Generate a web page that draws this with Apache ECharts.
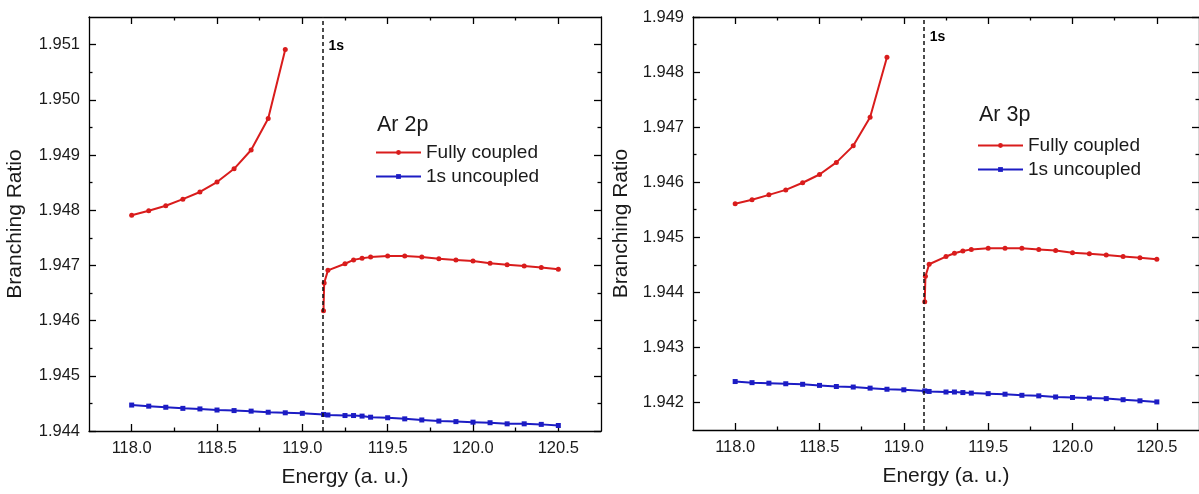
<!DOCTYPE html>
<html><head><meta charset="utf-8">
<script src="https://cdn.jsdelivr.net/npm/echarts@6/dist/echarts.min.js"></script>
<style>html,body{margin:0;padding:0;background:#fff}#chart{width:1199px;height:494px}</style>
</head><body><div id="chart"></div>
<script>
// ---------- data ----------
const energyBelow = [118.0, 118.1, 118.2, 118.3, 118.4, 118.5, 118.6, 118.7, 118.8, 118.9];
const energyAbove = [119.124, 119.128, 119.15, 119.25, 119.3, 119.35, 119.4, 119.5, 119.6, 119.7, 119.8, 119.9, 120.0, 120.1, 120.2, 120.3, 120.4, 120.5];
const energyUncoupled = [118.0, 118.1, 118.2, 118.3, 118.4, 118.5, 118.6, 118.7, 118.8, 118.9, 119.0, 119.124, 119.15, 119.25, 119.3, 119.35, 119.4, 119.5, 119.6, 119.7, 119.8, 119.9, 120.0, 120.1, 120.2, 120.3, 120.4, 120.5];

const ar2pFullyBelow = [1.94791, 1.94799, 1.94808, 1.94820, 1.94833, 1.94851, 1.94875, 1.94909, 1.94966, 1.95091];
const ar2pFullyAbove = [1.94618, 1.94668, 1.94691, 1.94703, 1.94710, 1.94713, 1.94715, 1.94717, 1.94717, 1.94715, 1.94712, 1.94710, 1.94708, 1.94704, 1.94701, 1.94699, 1.94696, 1.94693];
const ar2pUncoupled = [1.94447, 1.94445, 1.94443, 1.94441, 1.94440, 1.94438, 1.94437, 1.94436, 1.94434, 1.94433, 1.94432, 1.94430, 1.94429, 1.94428, 1.94428, 1.94427, 1.94425, 1.94424, 1.94422, 1.94420, 1.94418, 1.94417, 1.94416, 1.94415, 1.94413, 1.94413, 1.94412, 1.94410];

const ar3pFullyBelow = [1.94561, 1.94568, 1.94577, 1.94586, 1.94599, 1.94614, 1.94636, 1.94666, 1.94718, 1.94827];
const ar3pFullyAbove = [1.94383, 1.94429, 1.94451, 1.94465, 1.94471, 1.94475, 1.94478, 1.94480, 1.94480, 1.94480, 1.94478, 1.94476, 1.94472, 1.94470, 1.94468, 1.94465, 1.94463, 1.94460];
const ar3pUncoupled = [1.94238, 1.94236, 1.94235, 1.94234, 1.94233, 1.94231, 1.94229, 1.94228, 1.94226, 1.94224, 1.94223, 1.94221, 1.94220, 1.94219, 1.94219, 1.94218, 1.94217, 1.94216, 1.94215, 1.94213, 1.94212, 1.94210, 1.94209, 1.94208, 1.94207, 1.94205, 1.94203, 1.94201];

const threshold1s = 119.124;

const xTicksMajor = [118.0, 118.5, 119.0, 119.5, 120.0, 120.5];
const xTicksMinor = [118.25, 118.75, 119.25, 119.75, 120.25];
const yTicksMajor2p = [1.944, 1.945, 1.946, 1.947, 1.948, 1.949, 1.950, 1.951];
const yTicksMinor2p = [1.9445, 1.9455, 1.9465, 1.9475, 1.9485, 1.9495, 1.9505];
const yTicksMajor3p = [1.942, 1.943, 1.944, 1.945, 1.946, 1.947, 1.948, 1.949];
const yTicksMinor3p = [1.9425, 1.9435, 1.9445, 1.9455, 1.9465, 1.9475, 1.9485];

const panelTitles = ['Ar 2p', 'Ar 3p'];
const seriesNames = ['Fully coupled', '1s uncoupled'];

// ---------- styling / layout ----------
const FONT = "'Liberation Sans', Arial, sans-serif";
const RED = '#d91c1c';
const BLUE = '#1c1cc4';
const TXT = '#1a1a1a';
const X_RANGE = [117.75, 120.75];
const Y_RANGES = [[1.944, 1.9515], [1.9415, 1.949]];

const zip = (a, b) => a.map((v, i) => [v, b[i]]);

function xAxis(gi, position, ticks, len, main, label) {
  return {
    type: 'value', gridIndex: gi, position, min: X_RANGE[0], max: X_RANGE[1],
    axisLine: { show: main, onZero: false, lineStyle: { color: '#000', width: 1.3 } },
    axisTick: { show: true, inside: true, length: len, customValues: ticks, lineStyle: { color: '#000', width: 1.3 } },
    axisLabel: label ? { show: true, customValues: ticks, formatter: v => v.toFixed(1), margin: 9, fontSize: 16.5, color: TXT, fontFamily: FONT } : { show: false },
    splitLine: { show: false },
    name: label ? 'Energy (a. u.)' : '', nameLocation: 'middle', nameGap: 36,
    nameTextStyle: { fontSize: 21, color: TXT, fontFamily: FONT }
  };
}
function yAxis(gi, position, ticks, len, main, label, nameGap) {
  return {
    type: 'value', gridIndex: gi, position, min: Y_RANGES[gi][0], max: Y_RANGES[gi][1],
    axisLine: { show: main, onZero: false, lineStyle: { color: '#000', width: 1.3 } },
    axisTick: { show: true, inside: true, length: len, customValues: ticks, lineStyle: { color: '#000', width: 1.3 } },
    axisLabel: label ? { show: true, customValues: ticks, formatter: v => v.toFixed(3), margin: 9, fontSize: 16.5, color: TXT, fontFamily: FONT } : { show: false },
    splitLine: { show: false },
    name: label ? 'Branching Ratio' : '', nameLocation: 'middle', nameGap: nameGap || 60,
    nameTextStyle: { fontSize: 21, color: TXT, fontFamily: FONT }
  };
}

const xAxes = [], yAxes = [];
const yMaj = [yTicksMajor2p, yTicksMajor3p], yMin = [yTicksMinor2p, yTicksMinor3p];
[0, 1].forEach(gi => {
  xAxes.push(xAxis(gi, 'bottom', xTicksMajor, 7, true, true));
  xAxes.push(xAxis(gi, 'bottom', xTicksMinor, 3.5, false, false));
  xAxes.push(xAxis(gi, 'top', xTicksMajor, 7, true, false));
  xAxes.push(xAxis(gi, 'top', xTicksMinor, 3.5, false, false));
  yAxes.push(yAxis(gi, 'left', yMaj[gi], 7, true, true, gi === 0 ? 63 : 61));
  yAxes.push(yAxis(gi, 'left', yMin[gi], 3.5, false, false));
  yAxes.push(yAxis(gi, 'right', yMaj[gi], 7, true, false));
  yAxes.push(yAxis(gi, 'right', yMin[gi], 3.5, false, false));
});

const panels = [
  { below: ar2pFullyBelow, above: ar2pFullyAbove, unc: ar2pUncoupled, labelY: 1.95097 },
  { below: ar3pFullyBelow, above: ar3pFullyAbove, unc: ar3pUncoupled, labelY: 1.94863 }
];

const series = [];
panels.forEach((p, gi) => {
  const common = { type: 'line', xAxisIndex: gi * 4, yAxisIndex: gi * 4, animation: false, z: 3 };
  const redStyle = { symbol: 'circle', symbolSize: 5, showSymbol: true, lineStyle: { color: RED, width: 2 }, itemStyle: { color: RED } };
  series.push(Object.assign({}, common, redStyle, { name: seriesNames[0], data: zip(energyBelow, p.below) }));
  series.push(Object.assign({}, common, redStyle, { name: seriesNames[0], data: zip(energyAbove, p.above) }));
  series.push(Object.assign({}, common, {
    name: seriesNames[1], data: zip(energyUncoupled, p.unc),
    symbol: 'rect', symbolSize: 5, showSymbol: true,
    lineStyle: { color: BLUE, width: 2 }, itemStyle: { color: BLUE },
    markLine: {
      silent: true, symbol: ['none', 'none'], animation: false,
      label: { show: false },
      lineStyle: { type: [4, 3], color: '#111', width: 1.5 },
      data: [{ xAxis: threshold1s }]
    },
    markPoint: {
      silent: true, animation: false,
      symbol: 'circle', symbolSize: 0,
      label: { show: true, position: 'right', distance: 5, formatter: '1s', fontWeight: 'bold', fontSize: 14, color: '#000', fontFamily: FONT },
      data: [{ coord: [threshold1s, p.labelY] }]
    }
  }));
});

const legendBase = { orient: 'vertical', itemWidth: 45, itemHeight: 6, itemGap: 5, padding: 0, selectedMode: false, data: seriesNames, textStyle: { fontSize: 19, color: TXT, fontFamily: FONT } };

const option = {
  backgroundColor: '#fff',
  animation: false,
  textStyle: { fontFamily: FONT },
  grid: [
    { left: 89, top: 17, width: 512, height: 414 },
    { left: 693, top: 17, width: 511, height: 413 }
  ],
  title: [
    { text: panelTitles[0], left: 377, top: 114, padding: 0, textStyle: { fontSize: 21.5, fontWeight: 'normal', color: TXT, fontFamily: FONT } },
    { text: panelTitles[1], left: 979, top: 104, padding: 0, textStyle: { fontSize: 21.5, fontWeight: 'normal', color: TXT, fontFamily: FONT } }
  ],
  legend: [
    Object.assign({}, legendBase, { left: 375, top: 143 }),
    Object.assign({}, legendBase, { left: 977, top: 136 })
  ],
  xAxis: xAxes,
  yAxis: yAxes,
  series
};

const chart = echarts.init(document.getElementById('chart'), null, { renderer: 'canvas' });
chart.setOption(option);
</script></body></html>
